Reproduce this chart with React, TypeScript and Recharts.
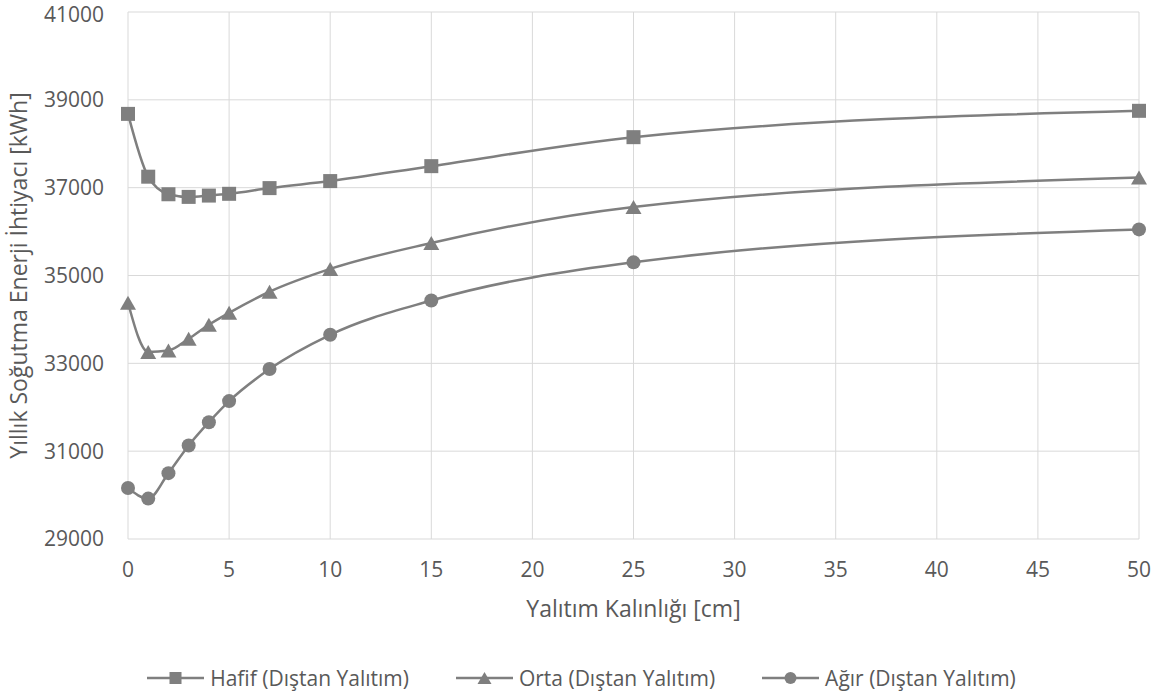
import { LineChart, Line, XAxis, YAxis, CartesianGrid, Legend, Label } from 'recharts'

// insulation thickness [cm]
const thickness = [0, 1, 2, 3, 4, 5, 7, 10, 15, 25, 50]
const hafif = [38680, 37250, 36850, 36790, 36820, 36860, 36990, 37150, 37490, 38150, 38750]
const orta = [34380, 33260, 33290, 33560, 33880, 34150, 34630, 35150, 35740, 36560, 37230]
const agir = [30160, 29920, 30500, 31130, 31660, 32140, 32870, 33650, 34430, 35300, 36050]

const xTicks = [0, 5, 10, 15, 20, 25, 30, 35, 40, 45, 50]
const yTicks = [29000, 31000, 33000, 35000, 37000, 39000, 41000]

const seriesNames = ['Hafif (Dıştan Yalıtım)', 'Orta (Dıştan Yalıtım)', 'Ağır (Dıştan Yalıtım)']

const data = thickness.map((t, i) => ({ t, hafif: hafif[i], orta: orta[i], agir: agir[i] }))

const GRAY = '#7f7f7f'
const TEXT = '#595959'
const GRID = '#d9d9d9'
const FONT = '"Open Sans", sans-serif'

type Marker = 'square' | 'triangle' | 'circle'

function markerShape(kind: Marker, cx: number, cy: number, s: number) {
  const h = s / 2
  if (kind === 'square') return <rect x={cx - h} y={cy - h} width={s} height={s} fill={GRAY} />
  if (kind === 'triangle')
    return <path d={`M${cx},${cy - h} L${cx + h + 1},${cy + h} L${cx - h - 1},${cy + h} Z`} fill={GRAY} />
  return <circle cx={cx} cy={cy} r={h} fill={GRAY} />
}

const makeDot = (kind: Marker) => (props: any) => {
  const { cx, cy, index } = props
  if (cx == null || cy == null) return <g key={index} />
  return <g key={index}>{markerShape(kind, cx, cy, 14)}</g>
}

const markers: Marker[] = ['square', 'triangle', 'circle']

// y tick: keep the top label inside the picture
function YTick(props: any) {
  const { x, y, payload } = props
  return (
    <text x={x} y={Math.max(y, 15)} dy="0.355em" textAnchor="end" fill={TEXT} fontSize={21} fontFamily={FONT}>
      {payload.value}
    </text>
  )
}

function LegendContent() {
  return (
    <div
      style={{
        height: 38,
        display: 'flex',
        alignItems: 'center',
        justifyContent: 'center',
        gap: 47,
        fontFamily: FONT,
        fontSize: 21,
        color: TEXT,
        paddingLeft: 24,
      }}
    >
      {seriesNames.map((name, i) => (
        <div key={name} style={{ display: 'flex', alignItems: 'center', gap: 6 }}>
          <svg width={57} height={16}>
            <line x1={0} y1={8} x2={57} y2={8} stroke={GRAY} strokeWidth={2.5} />
            {markerShape(markers[i], 28.5, 8, 12)}
          </svg>
          <span>{name}</span>
        </div>
      ))}
    </div>
  )
}

export default function App() {
  return (
    <div style={{ position: 'absolute', left: 0, top: 0, width: 1159, height: 697, background: '#fff' }}>
      <LineChart width={1159} height={697} data={data} margin={{ top: 12, right: 20, left: 0, bottom: 0 }}>
        <CartesianGrid stroke={GRID} strokeWidth={1} />
        <XAxis
          dataKey="t"
          type="number"
          domain={[0, 50]}
          ticks={xTicks}
          interval={0}
          height={120}
          axisLine={false}
          tickLine={false}
          tickSize={0}
          tickMargin={23}
          tick={{ fill: TEXT, fontSize: 21, fontFamily: FONT }}
        >
          <Label
            value="Yalıtım Kalınlığı [cm]"
            position="insideBottom"
            offset={42}
            style={{ fill: TEXT, fontSize: 23, fontFamily: FONT }}
          />
        </XAxis>
        <YAxis
          type="number"
          domain={[29000, 41000]}
          ticks={yTicks}
          interval={0}
          width={128}
          axisLine={false}
          tickLine={false}
          tickSize={0}
          tickMargin={24}
          tick={<YTick />}
        >
          <Label
            value="Yıllık Soğutma Enerji İhtiyacı [kWh]"
            angle={-90}
            position="insideLeft"
            offset={19}
            style={{ fill: TEXT, fontSize: 23, fontFamily: FONT, textAnchor: 'middle' }}
          />
        </YAxis>
        <Legend verticalAlign="bottom" content={LegendContent} />
        <Line
          type="monotone"
          dataKey="hafif"
          name={seriesNames[0]}
          stroke={GRAY}
          strokeWidth={2.5}
          dot={makeDot('square')}
          activeDot={false}
          isAnimationActive={false}
        />
        <Line
          type="monotone"
          dataKey="orta"
          name={seriesNames[1]}
          stroke={GRAY}
          strokeWidth={2.5}
          dot={makeDot('triangle')}
          activeDot={false}
          isAnimationActive={false}
        />
        <Line
          type="monotone"
          dataKey="agir"
          name={seriesNames[2]}
          stroke={GRAY}
          strokeWidth={2.5}
          dot={makeDot('circle')}
          activeDot={false}
          isAnimationActive={false}
        />
      </LineChart>
    </div>
  )
}
